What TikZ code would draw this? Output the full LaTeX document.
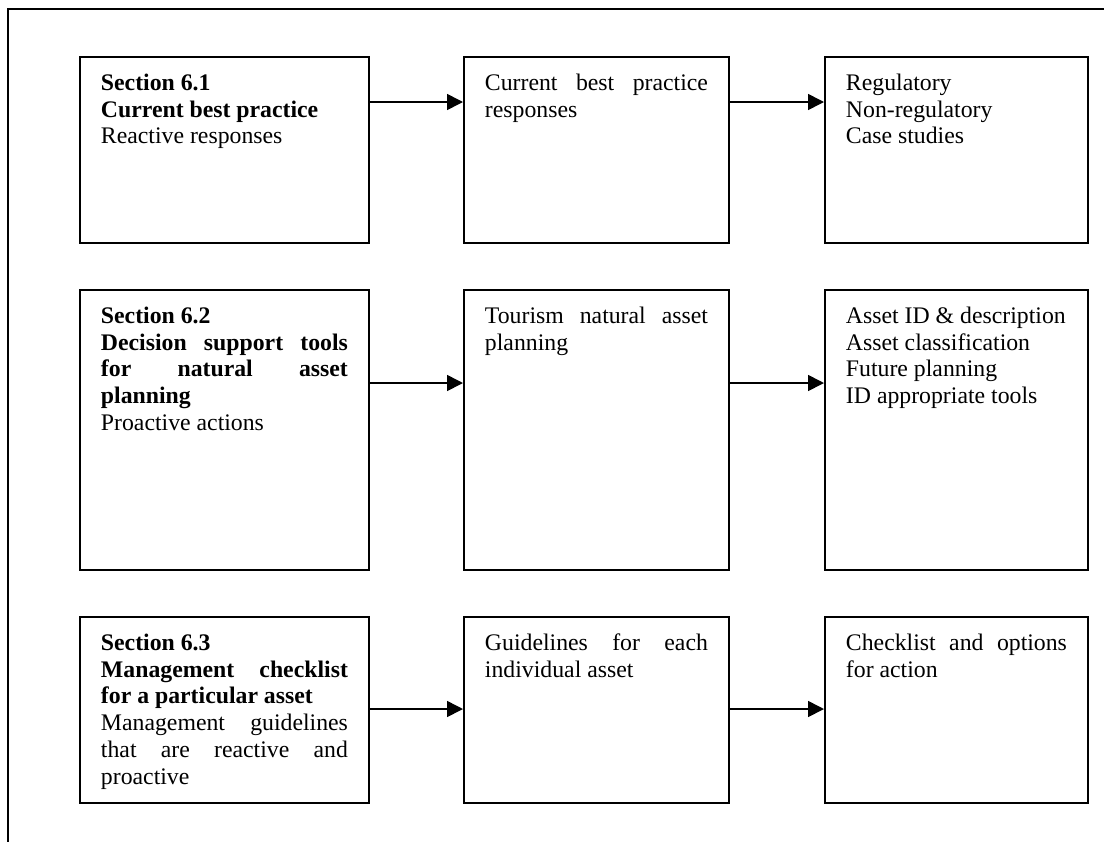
\documentclass[tikz,border=0pt]{standalone}
\usepackage{fontspec}
\setmainfont{Liberation Serif}
\usetikzlibrary{arrows.meta}
\newcommand{\bt}[3]{\parbox[c][#2][t]{#1}{\fontsize{12}{13.6}\selectfont\hyphenpenalty=10000\parindent=0pt\strut #3}}
\begin{document}
\begin{tikzpicture}[x=0.505pt,y=-0.505pt,
  box/.style={draw, line width=1pt, rectangle, anchor=north west, inner xsep=10.6pt, inner ysep=7.2pt},
  arr/.style={-{Triangle[length=8pt,width=8pt]}, line width=0.8pt},
  frameline/.style={line width=1pt}]
\useasboundingbox (0,0) rectangle (1104,843);
% outer frame (cropped)
\coordinate (ftr) at (1104,9);
\coordinate (ftl) at (8,9);
\coordinate (fbl) at (8,842);
\draw[frameline] (ftr) -- (ftl) -- (fbl);
% row 1
\node[box] (b11) at (79,56) {\bt{124.7pt}{79.5pt}{\textbf{Section 6.1}\\\textbf{Current best practice}\\Reactive responses}};
\node[box] (b12) at (463,56) {\bt{112.6pt}{79.5pt}{Current best practice\linebreak responses}};
\node[box] (b13) at (824,56) {\bt{111.6pt}{79.5pt}{Regulatory\\Non-regulatory\\Case studies}};
% row 2
\node[box] (b21) at (79,289) {\bt{124.7pt}{127pt}{\textbf{Section 6.2}\\\textbf{Decision support tools\linebreak for natural asset\linebreak planning}\\Proactive actions}};
\node[box] (b22) at (463,289) {\bt{112.6pt}{127pt}{Tourism natural asset\linebreak planning}};
\node[box] (b23) at (824,289) {\bt{111.6pt}{127pt}{Asset ID \& description\\Asset classification\\Future planning\\ID appropriate tools}};
% row 3
\node[box] (b31) at (79,616) {\bt{124.7pt}{79.5pt}{\textbf{Section 6.3}\\\textbf{Management checklist\linebreak for a particular asset}\\Management guidelines\linebreak that are reactive and\linebreak proactive}};
\node[box] (b32) at (463,616) {\bt{112.6pt}{79.5pt}{Guidelines for each\linebreak individual asset}};
\node[box] (b33) at (824,616) {\bt{111.6pt}{79.5pt}{Checklist and options\linebreak for action}};
% arrow levels
\coordinate (r1) at (0,102);
\coordinate (r2) at (0,383);
\coordinate (r3) at (0,709);
\draw[arr] (b11.east |- r1) -- (b12.west |- r1);
\draw[arr] (b12.east |- r1) -- (b13.west |- r1);
\draw[arr] (b21.east |- r2) -- (b22.west |- r2);
\draw[arr] (b22.east |- r2) -- (b23.west |- r2);
\draw[arr] (b31.east |- r3) -- (b32.west |- r3);
\draw[arr] (b32.east |- r3) -- (b33.west |- r3);
\end{tikzpicture}
\end{document}
